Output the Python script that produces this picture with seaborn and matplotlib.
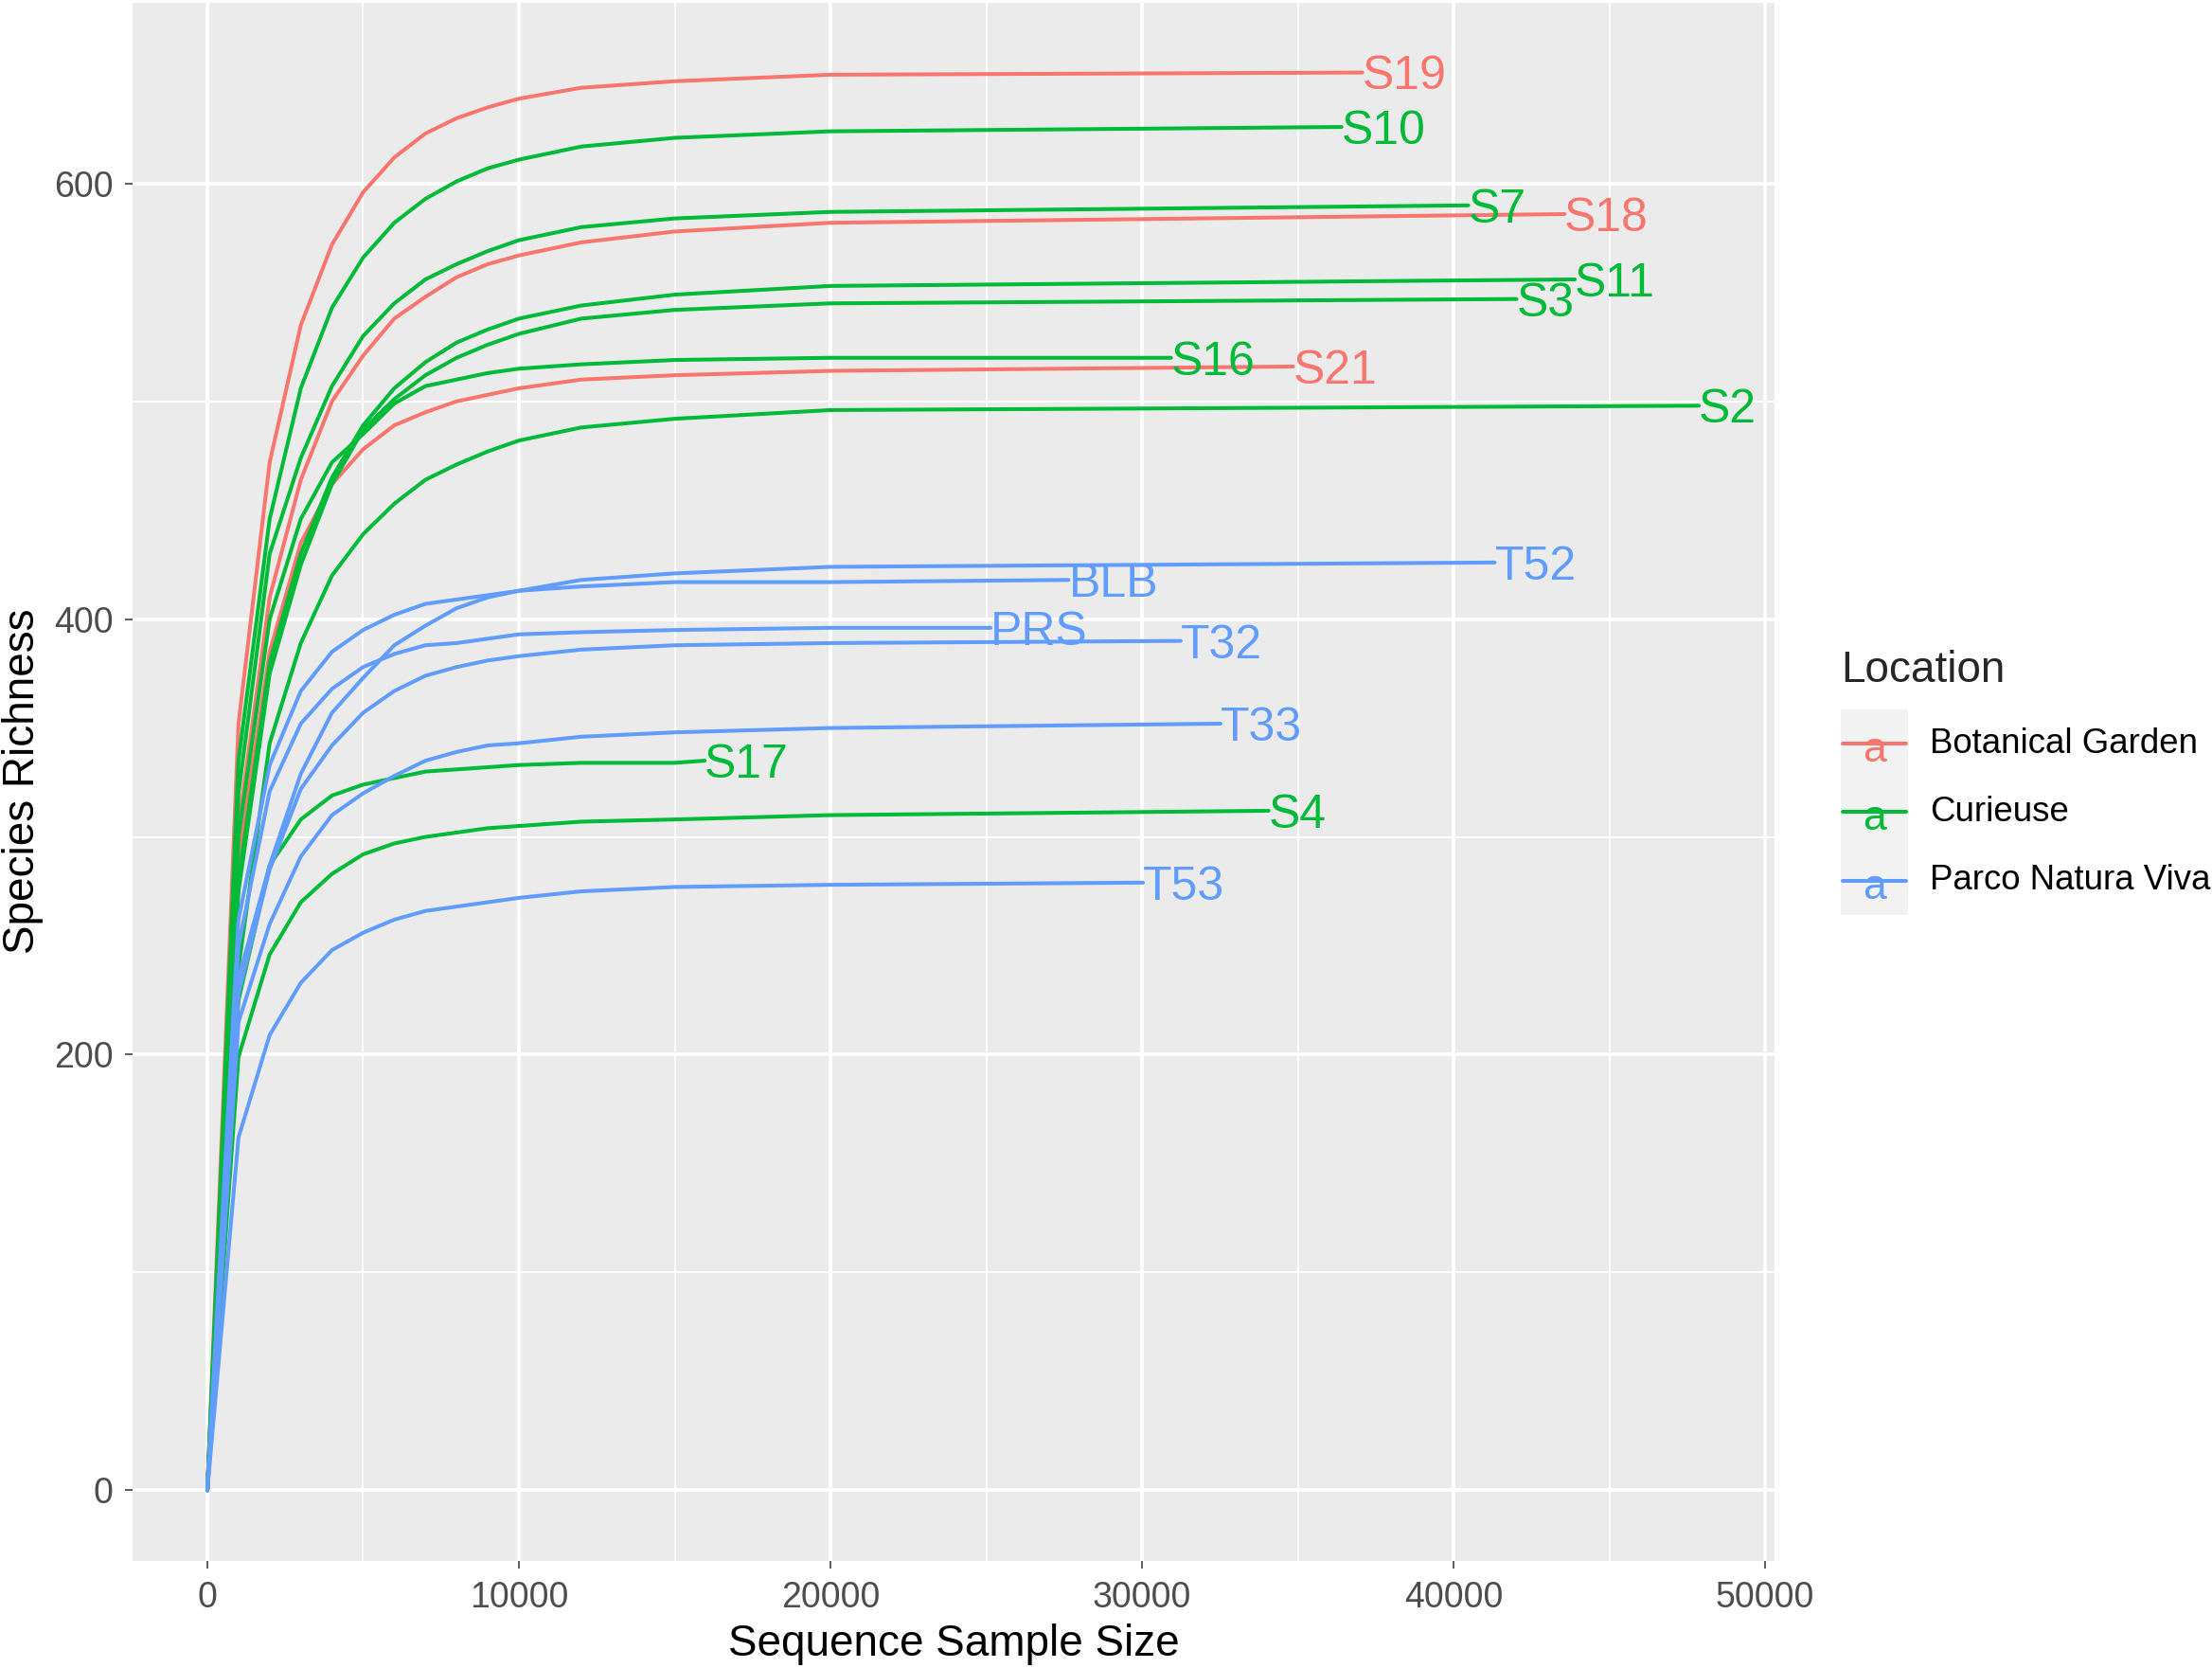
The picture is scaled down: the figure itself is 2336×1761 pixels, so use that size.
import pandas as pd
import matplotlib
matplotlib.use("Agg")
import matplotlib.pyplot as plt
import matplotlib.transforms as mtransforms
import seaborn as sns
from matplotlib.patches import Rectangle
from matplotlib.lines import Line2D
from matplotlib.ticker import MultipleLocator

# rarefaction depths (every 1000 reads, then sparser)
depth_grid = [0, 1000, 2000, 3000, 4000, 5000, 6000, 7000, 8000, 9000, 10000, 12000, 15000, 20000]

# species richness per sample at the depths above (None = sample ends earlier)
S19 = [0, 352, 472, 535, 572, 596, 612, 623, 630, 635, 639, 644, 647, 650]
S10 = [0, 335, 446, 506, 543, 566, 582, 593, 601, 607, 611, 617, 621, 624]
S7 = [0, 320, 430, 474, 507, 530, 545, 556, 563, 569, 574, 580, 584, 587]
S18 = [0, 305, 410, 464, 500, 521, 538, 548, 557, 563, 567, 573, 578, 582]
S11 = [0, 280, 380, 430, 465, 489, 506, 518, 527, 533, 538, 544, 549, 553]
S3 = [0, 275, 375, 425, 462, 487, 501, 512, 520, 526, 531, 538, 542, 545]
S16 = [0, 300, 400, 446, 472, 485, 499, 507, 510, 513, 515, 517, 519, 520]
S21 = [0, 290, 385, 435, 462, 478, 489, 495, 500, 503, 506, 510, 512, 514]
S2 = [0, 240, 343, 389, 420, 439, 453, 464, 471, 477, 482, 488, 492, 496]
T52 = [0, 235, 287, 329, 357, 373, 388, 397, 405, 410, 413, 418, 421, 424]
BLB = [0, 262, 333, 367, 385, 395, 402, 407, 409, 411, 413, 415, 417, 417]
PRS = [0, 250, 321, 352, 368, 378, 384, 388, 389, 391, 393, 394, 395, 396]
T32 = [0, 228, 285, 322, 342, 357, 367, 374, 378, 381, 383, 386, 388, 389]
T33 = [0, 215, 260, 291, 310, 320, 328, 335, 339, 342, 343, 346, 348, 350]
S17 = [0, 225, 287, 308, 319, 324, 327, 330, 331, 332, 333, 334, 334, None]
S4 = [0, 199, 246, 270, 283, 292, 297, 300, 302, 304, 305, 307, 308, 310]
T53 = [0, 162, 209, 233, 248, 256, 262, 266, 268, 270, 272, 275, 277, 278]

sample_names = ["S19", "S10", "S7", "S18", "S11", "S3", "S16", "S21", "S2",
                "T52", "BLB", "PRS", "T32", "T33", "S17", "S4", "T53"]
sample_curves = [S19, S10, S7, S18, S11, S3, S16, S21, S2,
                 T52, BLB, PRS, T32, T33, S17, S4, T53]
sample_location = ["Botanical Garden", "Curieuse", "Curieuse", "Botanical Garden",
                   "Curieuse", "Curieuse", "Curieuse", "Botanical Garden", "Curieuse",
                   "Parco Natura Viva", "Parco Natura Viva", "Parco Natura Viva",
                   "Parco Natura Viva", "Parco Natura Viva", "Curieuse", "Curieuse",
                   "Parco Natura Viva"]
# total reads of each sample and the richness reached there
end_depth = [37070, 36400, 40470, 43560, 43890, 42020, 30930, 34850, 47870,
             41320, 27640, 25140, 31240, 32520, 15960, 34060, 30030]
end_richness = [651, 626, 590, 586, 556, 547, 520, 516, 498,
                426, 418, 396, 390, 352, 335, 312, 279]

locations = ["Botanical Garden", "Curieuse", "Parco Natura Viva"]
loc_colors = ["#F8766D", "#00BA38", "#619CFF"]
palette = dict(zip(locations, loc_colors))

# long table for seaborn
rows = []
for name, curve, loc, d_end, r_end in zip(sample_names, sample_curves, sample_location,
                                          end_depth, end_richness):
    for d, r in zip(depth_grid, curve):
        if r is not None and d < d_end:
            rows.append((name, loc, d, r))
    rows.append((name, loc, d_end, r_end))
df = pd.DataFrame(rows, columns=["Sample", "Location", "Depth", "Richness"])

W, H = 2336, 1761
DPI = 200
sns.set_theme(style="darkgrid", rc={
    "axes.facecolor": "#EBEBEB",
    "grid.color": "white",
})
plt.rcParams["font.family"] = ["Liberation Sans", "DejaVu Sans"]

fig = plt.figure(figsize=(W / DPI, H / DPI), dpi=DPI)
ax = fig.add_axes([140 / W, 1 - 1648 / H, (1874 - 140) / W, (1648 - 3) / H])

sns.lineplot(data=df, x="Depth", y="Richness", hue="Location", units="Sample",
             estimator=None, sort=False, palette=palette, legend=False,
             linewidth=1.45, ax=ax)

# sample names at the end of each curve, baseline shifted so caps centre on the line
label_size = 18
cap_px = 0.716 * label_size * DPI / 72
label_trans = mtransforms.offset_copy(ax.transData, fig=fig, y=-cap_px / 2, units="dots")
for name, loc, d_end, r_end in zip(sample_names, sample_location, end_depth, end_richness):
    ax.text(d_end, r_end, name, color=palette[loc], fontsize=label_size,
            ha="left", va="baseline", clip_on=False, transform=label_trans)

ax.set_xlim(-2400, 50300)
ax.set_ylim(-32.5, 683)
ax.xaxis.set_major_locator(MultipleLocator(10000))
ax.xaxis.set_minor_locator(MultipleLocator(5000))
ax.yaxis.set_major_locator(MultipleLocator(200))
ax.yaxis.set_minor_locator(MultipleLocator(100))
ax.grid(which="major", color="white", linewidth=1.3)
ax.grid(which="minor", color="white", linewidth=0.65)
for s in ax.spines.values():
    s.set_visible(False)
ax.tick_params(which="major", length=2.9, width=0.55, color="#333333",
               labelsize=13.5, labelcolor="#4D4D4D", pad=4.5)
ax.tick_params(which="minor", length=0)
ax.tick_params(axis="x", which="both", bottom=True)
ax.tick_params(axis="y", which="both", left=True)
ax.set_xlabel("")
ax.set_ylabel("")

fig.text(1007 / W, 1 - 1736 / H, "Sequence Sample Size", fontsize=16.5,
         ha="center", va="center", color="black")
fig.text(24 / W, 1 - 825 / H, "Species Richness", fontsize=16.5, rotation=90,
         ha="center", va="center", color="black")

# legend drawn ggplot-style: grey key boxes with a line and a letter
fig.text(1944 / W, 1 - 708 / H, "Location", fontsize=16.5, ha="left", va="center")
key_top = 749
key_h = 72.3
for i, (loc, col) in enumerate(zip(locations, loc_colors)):
    top = key_top + i * key_h
    cy = top + key_h / 2
    fig.patches.append(Rectangle((1944 / W, 1 - (top + key_h) / H), 71 / W, key_h / H,
                                 transform=fig.transFigure, facecolor="#F2F2F2",
                                 edgecolor="none"))
    fig.lines.append(Line2D([1946 / W, 2013 / W], [1 - cy / H, 1 - cy / H],
                            transform=fig.transFigure, color=col, linewidth=1.45))
    fig.text(1979.5 / W, 1 - (cy + 19) / H, "a", color=col, fontsize=16,
             ha="center", va="baseline")
    fig.text(2038 / W, 1 - cy / H, loc, fontsize=13.2, ha="left", va="center",
             color="black")

fig.savefig("out.png", dpi=DPI)
